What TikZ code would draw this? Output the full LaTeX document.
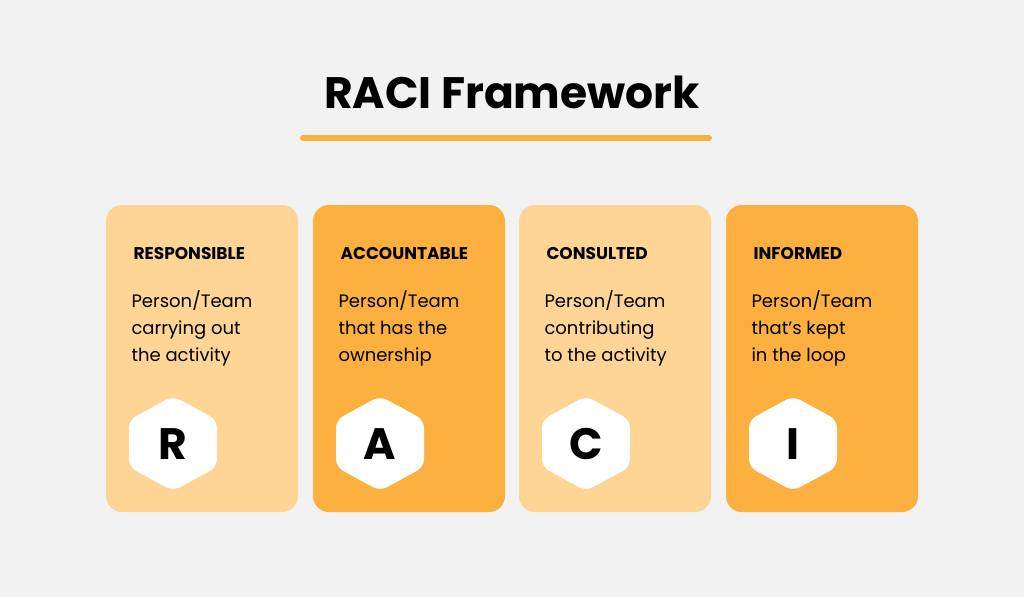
\documentclass[tikz,border=0pt]{standalone}
\usepackage{fontspec}
\setmainfont{Poppins}
\definecolor{bg}{HTML}{F2F2F2}
\definecolor{lightc}{HTML}{FED595}
\definecolor{darkc}{HTML}{FBB03F}
\definecolor{bar}{HTML}{FAAF3E}
\begin{document}
\begin{tikzpicture}[x=1pt,y=-1pt,
  card/.style={rounded corners=16pt},
  head/.style={anchor=base west,font=\fontsize{17}{20}\selectfont\bfseries},
  body/.style={anchor=north west,align=left,font=\fontsize{18}{27}\selectfont},
  letter/.style={font=\fontsize{44}{44}\selectfont\bfseries}]
\fill[bg] (0,0) rectangle (1024,597);
\useasboundingbox (0,0) rectangle (1024,597);
\node[font=\fontsize{44}{50}\selectfont\bfseries] (title) at (512,92) {RACI Framework};
\draw[bar,line width=6pt,line cap=round] (303,138) -- (709,138);
\foreach \x/\c/\h/\a/\b/\cc/\L/\n in {106/lightc/RESPONSIBLE/Person\slash Team/carrying out/the activity/R/r,
  313/darkc/ACCOUNTABLE/Person\slash Team/that has the/ownership/A/a,
  519/lightc/CONSULTED/Person\slash Team/contributing/to the activity/C/c,
  726/darkc/INFORMED/Person\slash Team/that’s kept/in the loop/I/i}{
  \fill[\c,card] (\x,205) rectangle ++(192,307);
  \node[head] (h\n) at (\x+24,259) {\h};
  \node[body] (t\n) at (\x+22,287) {\a\\\b\\\cc};
  \fill[white,rounded corners=8pt] (\x+67,396) -- (\x+111,420) -- (\x+111,467) -- (\x+67,491) -- (\x+23,467) -- (\x+23,420) -- cycle;
  \node[letter] (l\n) at (\x+67,444) {\L};
}
\end{tikzpicture}
\end{document}
